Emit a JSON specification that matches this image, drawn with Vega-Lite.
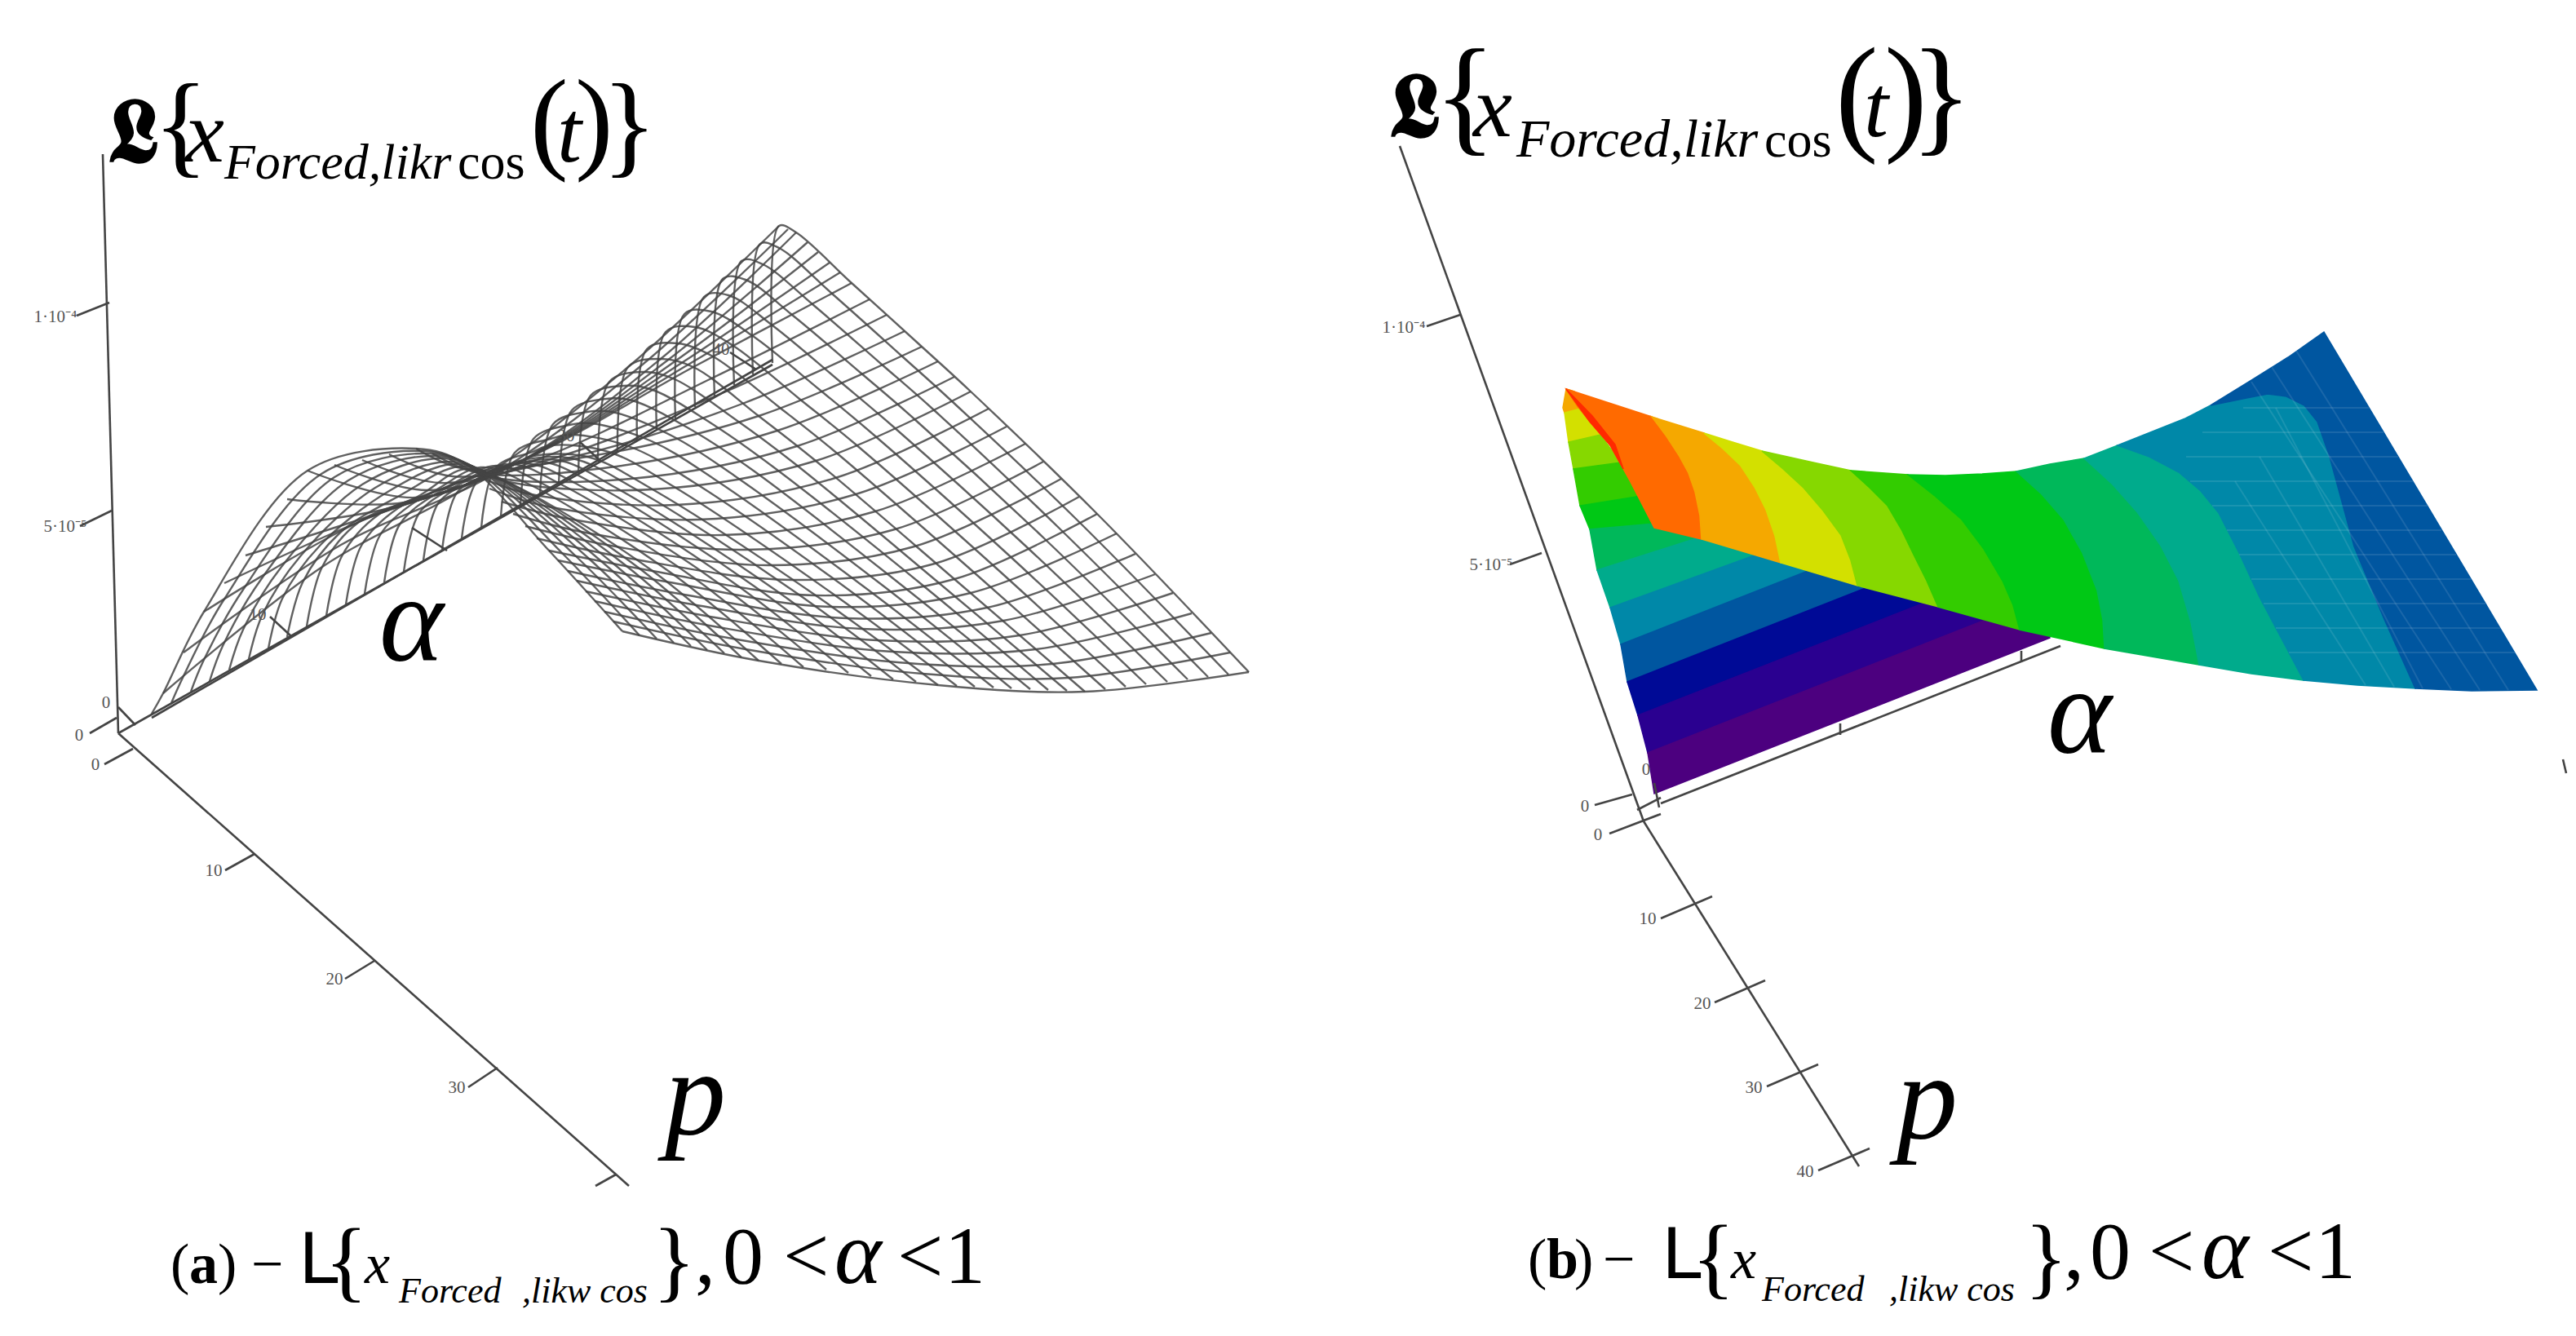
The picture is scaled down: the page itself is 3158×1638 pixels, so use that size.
{"$schema":"https://vega.github.io/schema/vega-lite/v6.json","width":3158,"height":1638,"autosize":{"type":"fit","contains":"padding"},"padding":0,"background":"white","view":{"stroke":null},
"config":{"text":{"baseline":"alphabetic","align":"left","color":"#000"}},
"encoding":{"x":{"field":"x","type":"quantitative","scale":{"domain":[0,3158],"nice":false,"zero":false},"axis":null},"y":{"field":"y","type":"quantitative","scale":{"domain":[1638,0],"nice":false,"zero":false},"axis":null}},
"datasets":{
"mesh":[
{"s":"v0","x":186,"y":875},{"s":"v0","x":200,"y":850},{"s":"v0","x":250,"y":750},{"s":"v0","x":377,"y":577},{"s":"v0","x":510,"y":550},{"s":"v0","x":571,"y":569},{"s":"v0","x":673,"y":675},{"s":"v0","x":763,"y":774},
{"s":"v1","x":210,"y":862},{"s":"v1","x":224,"y":831},{"s":"v1","x":274,"y":736},{"s":"v1","x":394,"y":581},{"s":"v1","x":518,"y":553},{"s":"v1","x":577,"y":572},{"s":"v1","x":689,"y":678},{"s":"v1","x":784,"y":779},
{"s":"v2","x":234,"y":848},{"s":"v2","x":249,"y":811},{"s":"v2","x":298,"y":723},{"s":"v2","x":410,"y":585},{"s":"v2","x":525,"y":556},{"s":"v2","x":583,"y":574},{"s":"v2","x":705,"y":681},{"s":"v2","x":805,"y":783},
{"s":"v3","x":257,"y":835},{"s":"v3","x":273,"y":792},{"s":"v3","x":321,"y":709},{"s":"v3","x":427,"y":589},{"s":"v3","x":533,"y":559},{"s":"v3","x":589,"y":577},{"s":"v3","x":721,"y":684},{"s":"v3","x":826,"y":788},
{"s":"v4","x":281,"y":821},{"s":"v4","x":298,"y":772},{"s":"v4","x":345,"y":695},{"s":"v4","x":444,"y":594},{"s":"v4","x":540,"y":562},{"s":"v4","x":596,"y":580},{"s":"v4","x":737,"y":688},{"s":"v4","x":847,"y":792},
{"s":"v5","x":305,"y":808},{"s":"v5","x":322,"y":753},{"s":"v5","x":369,"y":681},{"s":"v5","x":460,"y":598},{"s":"v5","x":548,"y":566},{"s":"v5","x":602,"y":582},{"s":"v5","x":752,"y":691},{"s":"v5","x":867,"y":797},
{"s":"v6","x":329,"y":795},{"s":"v6","x":346,"y":734},{"s":"v6","x":393,"y":668},{"s":"v6","x":477,"y":602},{"s":"v6","x":555,"y":569},{"s":"v6","x":608,"y":585},{"s":"v6","x":768,"y":694},{"s":"v6","x":888,"y":801},
{"s":"v7","x":352,"y":781},{"s":"v7","x":371,"y":714},{"s":"v7","x":416,"y":654},{"s":"v7","x":493,"y":606},{"s":"v7","x":563,"y":572},{"s":"v7","x":614,"y":587},{"s":"v7","x":784,"y":697},{"s":"v7","x":909,"y":806},
{"s":"v8","x":376,"y":768},{"s":"v8","x":395,"y":695},{"s":"v8","x":440,"y":640},{"s":"v8","x":510,"y":610},{"s":"v8","x":570,"y":575},{"s":"v8","x":620,"y":590},{"s":"v8","x":800,"y":700},{"s":"v8","x":930,"y":810},
{"s":"v9","x":400,"y":755},{"s":"v9","x":419,"y":682},{"s":"v9","x":464,"y":631},{"s":"v9","x":528,"y":604},{"s":"v9","x":589,"y":573},{"s":"v9","x":643,"y":591},{"s":"v9","x":825,"y":704},{"s":"v9","x":958,"y":814},
{"s":"v10","x":424,"y":741},{"s":"v10","x":443,"y":669},{"s":"v10","x":488,"y":623},{"s":"v10","x":545,"y":598},{"s":"v10","x":608,"y":571},{"s":"v10","x":665,"y":593},{"s":"v10","x":850,"y":708},{"s":"v10","x":985,"y":818},
{"s":"v11","x":447,"y":728},{"s":"v11","x":466,"y":656},{"s":"v11","x":511,"y":614},{"s":"v11","x":563,"y":591},{"s":"v11","x":626,"y":569},{"s":"v11","x":688,"y":594},{"s":"v11","x":875,"y":711},{"s":"v11","x":1013,"y":821},
{"s":"v12","x":471,"y":714},{"s":"v12","x":490,"y":643},{"s":"v12","x":535,"y":605},{"s":"v12","x":580,"y":585},{"s":"v12","x":645,"y":568},{"s":"v12","x":710,"y":595},{"s":"v12","x":900,"y":715},{"s":"v12","x":1040,"y":825},
{"s":"v13","x":495,"y":701},{"s":"v13","x":514,"y":629},{"s":"v13","x":559,"y":596},{"s":"v13","x":598,"y":579},{"s":"v13","x":664,"y":566},{"s":"v13","x":733,"y":596},{"s":"v13","x":925,"y":719},{"s":"v13","x":1068,"y":829},
{"s":"v14","x":519,"y":687},{"s":"v14","x":538,"y":616},{"s":"v14","x":583,"y":588},{"s":"v14","x":615,"y":573},{"s":"v14","x":683,"y":564},{"s":"v14","x":755,"y":598},{"s":"v14","x":950,"y":723},{"s":"v14","x":1095,"y":833},
{"s":"v15","x":542,"y":674},{"s":"v15","x":561,"y":603},{"s":"v15","x":606,"y":579},{"s":"v15","x":633,"y":566},{"s":"v15","x":701,"y":562},{"s":"v15","x":778,"y":599},{"s":"v15","x":975,"y":726},{"s":"v15","x":1123,"y":836},
{"s":"v16","x":566,"y":660},{"s":"v16","x":585,"y":590},{"s":"v16","x":630,"y":570},{"s":"v16","x":650,"y":560},{"s":"v16","x":720,"y":560},{"s":"v16","x":800,"y":600},{"s":"v16","x":1000,"y":730},{"s":"v16","x":1150,"y":840},
{"s":"v17","x":590,"y":647},{"s":"v17","x":608,"y":573},{"s":"v17","x":653,"y":554},{"s":"v17","x":675,"y":546},{"s":"v17","x":746,"y":554},{"s":"v17","x":825,"y":596},{"s":"v17","x":1021,"y":728},{"s":"v17","x":1173,"y":841},
{"s":"v18","x":614,"y":633},{"s":"v18","x":631,"y":555},{"s":"v18","x":675,"y":538},{"s":"v18","x":700,"y":533},{"s":"v18","x":773,"y":548},{"s":"v18","x":850,"y":591},{"s":"v18","x":1043,"y":725},{"s":"v18","x":1195,"y":842},
{"s":"v19","x":638,"y":620},{"s":"v19","x":654,"y":538},{"s":"v19","x":698,"y":521},{"s":"v19","x":725,"y":519},{"s":"v19","x":799,"y":541},{"s":"v19","x":875,"y":587},{"s":"v19","x":1064,"y":723},{"s":"v19","x":1218,"y":843},
{"s":"v20","x":662,"y":607},{"s":"v20","x":678,"y":520},{"s":"v20","x":720,"y":505},{"s":"v20","x":750,"y":505},{"s":"v20","x":825,"y":535},{"s":"v20","x":900,"y":583},{"s":"v20","x":1085,"y":720},{"s":"v20","x":1240,"y":844},
{"s":"v21","x":685,"y":593},{"s":"v21","x":701,"y":503},{"s":"v21","x":743,"y":489},{"s":"v21","x":775,"y":491},{"s":"v21","x":851,"y":529},{"s":"v21","x":925,"y":578},{"s":"v21","x":1106,"y":718},{"s":"v21","x":1263,"y":845},
{"s":"v22","x":709,"y":580},{"s":"v22","x":724,"y":485},{"s":"v22","x":765,"y":473},{"s":"v22","x":800,"y":478},{"s":"v22","x":878,"y":523},{"s":"v22","x":950,"y":574},{"s":"v22","x":1128,"y":715},{"s":"v22","x":1285,"y":846},
{"s":"v23","x":733,"y":566},{"s":"v23","x":747,"y":468},{"s":"v23","x":788,"y":456},{"s":"v23","x":825,"y":464},{"s":"v23","x":904,"y":516},{"s":"v23","x":975,"y":569},{"s":"v23","x":1149,"y":713},{"s":"v23","x":1308,"y":847},
{"s":"v24","x":757,"y":553},{"s":"v24","x":770,"y":450},{"s":"v24","x":810,"y":440},{"s":"v24","x":850,"y":450},{"s":"v24","x":930,"y":510},{"s":"v24","x":1000,"y":565},{"s":"v24","x":1170,"y":710},{"s":"v24","x":1330,"y":848},
{"s":"v25","x":781,"y":540},{"s":"v25","x":793,"y":428},{"s":"v25","x":831,"y":421},{"s":"v25","x":874,"y":437},{"s":"v25","x":955,"y":499},{"s":"v25","x":1024,"y":554},{"s":"v25","x":1192,"y":700},{"s":"v25","x":1355,"y":845},
{"s":"v26","x":805,"y":526},{"s":"v26","x":816,"y":407},{"s":"v26","x":852,"y":401},{"s":"v26","x":899,"y":424},{"s":"v26","x":980,"y":489},{"s":"v26","x":1048,"y":544},{"s":"v26","x":1214,"y":690},{"s":"v26","x":1380,"y":842},
{"s":"v27","x":828,"y":513},{"s":"v27","x":839,"y":385},{"s":"v27","x":872,"y":382},{"s":"v27","x":923,"y":412},{"s":"v27","x":1005,"y":478},{"s":"v27","x":1071,"y":533},{"s":"v27","x":1236,"y":680},{"s":"v27","x":1405,"y":839},
{"s":"v28","x":852,"y":499},{"s":"v28","x":863,"y":364},{"s":"v28","x":893,"y":362},{"s":"v28","x":947,"y":399},{"s":"v28","x":1030,"y":468},{"s":"v28","x":1095,"y":523},{"s":"v28","x":1258,"y":670},{"s":"v28","x":1431,"y":836},
{"s":"v29","x":876,"y":486},{"s":"v29","x":886,"y":342},{"s":"v29","x":914,"y":343},{"s":"v29","x":971,"y":386},{"s":"v29","x":1055,"y":457},{"s":"v29","x":1119,"y":512},{"s":"v29","x":1280,"y":660},{"s":"v29","x":1456,"y":833},
{"s":"v30","x":900,"y":472},{"s":"v30","x":909,"y":320},{"s":"v30","x":935,"y":324},{"s":"v30","x":996,"y":373},{"s":"v30","x":1080,"y":446},{"s":"v30","x":1143,"y":501},{"s":"v30","x":1301,"y":650},{"s":"v30","x":1481,"y":830},
{"s":"v31","x":923,"y":459},{"s":"v31","x":932,"y":299},{"s":"v31","x":955,"y":304},{"s":"v31","x":1020,"y":360},{"s":"v31","x":1105,"y":436},{"s":"v31","x":1166,"y":491},{"s":"v31","x":1323,"y":640},{"s":"v31","x":1506,"y":827},
{"s":"v32","x":947,"y":445},{"s":"v32","x":955,"y":277},{"s":"v32","x":976,"y":285},{"s":"v32","x":1044,"y":347},{"s":"v32","x":1130,"y":425},{"s":"v32","x":1190,"y":480},{"s":"v32","x":1345,"y":630},{"s":"v32","x":1531,"y":824},
{"s":"u1","x":200,"y":850},{"s":"u1","x":395,"y":695},{"s":"u1","x":585,"y":590},{"s":"u1","x":770,"y":450},{"s":"u1","x":955,"y":277},
{"s":"u2","x":225,"y":800},{"s":"u2","x":418,"y":668},{"s":"u2","x":608,"y":580},{"s":"u2","x":790,"y":445},{"s":"u2","x":966,"y":281},
{"s":"u3","x":250,"y":750},{"s":"u3","x":440,"y":640},{"s":"u3","x":630,"y":570},{"s":"u3","x":810,"y":440},{"s":"u3","x":976,"y":285},
{"s":"u4","x":275,"y":715},{"s":"u4","x":454,"y":634},{"s":"u4","x":634,"y":568},{"s":"u4","x":818,"y":442},{"s":"u4","x":990,"y":297},
{"s":"u5","x":301,"y":681},{"s":"u5","x":468,"y":628},{"s":"u5","x":638,"y":566},{"s":"u5","x":826,"y":444},{"s":"u5","x":1003,"y":309},
{"s":"u6","x":326,"y":646},{"s":"u6","x":482,"y":622},{"s":"u6","x":642,"y":564},{"s":"u6","x":834,"y":446},{"s":"u6","x":1017,"y":322},
{"s":"u7","x":352,"y":612},{"s":"u7","x":496,"y":616},{"s":"u7","x":646,"y":562},{"s":"u7","x":842,"y":448},{"s":"u7","x":1030,"y":334},
{"s":"u8","x":377,"y":577},{"s":"u8","x":510,"y":610},{"s":"u8","x":650,"y":560},{"s":"u8","x":850,"y":450},{"s":"u8","x":1044,"y":347},
{"s":"u9","x":410,"y":570},{"s":"u9","x":525,"y":601},{"s":"u9","x":668,"y":560},{"s":"u9","x":870,"y":465},{"s":"u9","x":1066,"y":367},
{"s":"u10","x":444,"y":564},{"s":"u10","x":540,"y":592},{"s":"u10","x":685,"y":560},{"s":"u10","x":890,"y":480},{"s":"u10","x":1087,"y":386},
{"s":"u11","x":477,"y":557},{"s":"u11","x":555,"y":584},{"s":"u11","x":703,"y":560},{"s":"u11","x":910,"y":495},{"s":"u11","x":1109,"y":406},
{"s":"u12","x":510,"y":550},{"s":"u12","x":570,"y":575},{"s":"u12","x":720,"y":560},{"s":"u12","x":930,"y":510},{"s":"u12","x":1130,"y":425},
{"s":"u13","x":530,"y":556},{"s":"u13","x":587,"y":580},{"s":"u13","x":747,"y":573},{"s":"u13","x":953,"y":528},{"s":"u13","x":1150,"y":443},
{"s":"u14","x":551,"y":563},{"s":"u14","x":603,"y":585},{"s":"u14","x":773,"y":587},{"s":"u14","x":977,"y":547},{"s":"u14","x":1170,"y":462},
{"s":"u15","x":571,"y":569},{"s":"u15","x":620,"y":590},{"s":"u15","x":800,"y":600},{"s":"u15","x":1000,"y":565},{"s":"u15","x":1190,"y":480},
{"s":"u16","x":586,"y":584},{"s":"u16","x":646,"y":605},{"s":"u16","x":829,"y":619},{"s":"u16","x":1024,"y":586},{"s":"u16","x":1212,"y":501},
{"s":"u17","x":600,"y":599},{"s":"u17","x":671,"y":621},{"s":"u17","x":857,"y":637},{"s":"u17","x":1049,"y":606},{"s":"u17","x":1234,"y":523},
{"s":"u18","x":615,"y":615},{"s":"u18","x":697,"y":636},{"s":"u18","x":886,"y":656},{"s":"u18","x":1073,"y":627},{"s":"u18","x":1257,"y":544},
{"s":"u19","x":629,"y":630},{"s":"u19","x":723,"y":654},{"s":"u19","x":914,"y":674},{"s":"u19","x":1097,"y":649},{"s":"u19","x":1279,"y":566},
{"s":"u20","x":644,"y":645},{"s":"u20","x":749,"y":669},{"s":"u20","x":943,"y":693},{"s":"u20","x":1121,"y":670},{"s":"u20","x":1301,"y":587},
{"s":"u21","x":658,"y":660},{"s":"u21","x":774,"y":685},{"s":"u21","x":971,"y":711},{"s":"u21","x":1146,"y":691},{"s":"u21","x":1323,"y":609},
{"s":"u22","x":673,"y":675},{"s":"u22","x":800,"y":700},{"s":"u22","x":1000,"y":730},{"s":"u22","x":1170,"y":710},{"s":"u22","x":1345,"y":630},
{"s":"u23","x":684,"y":687},{"s":"u23","x":816,"y":713},{"s":"u23","x":1019,"y":744},{"s":"u23","x":1190,"y":727},{"s":"u23","x":1369,"y":654},
{"s":"u24","x":696,"y":700},{"s":"u24","x":833,"y":728},{"s":"u24","x":1038,"y":758},{"s":"u24","x":1210,"y":745},{"s":"u24","x":1392,"y":679},
{"s":"u25","x":707,"y":712},{"s":"u25","x":849,"y":741},{"s":"u25","x":1056,"y":771},{"s":"u25","x":1230,"y":761},{"s":"u25","x":1416,"y":704},
{"s":"u26","x":718,"y":725},{"s":"u26","x":865,"y":755},{"s":"u26","x":1075,"y":785},{"s":"u26","x":1250,"y":779},{"s":"u26","x":1438,"y":727},
{"s":"u27","x":729,"y":737},{"s":"u27","x":881,"y":769},{"s":"u27","x":1094,"y":799},{"s":"u27","x":1270,"y":796},{"s":"u27","x":1461,"y":752},
{"s":"u28","x":741,"y":750},{"s":"u28","x":898,"y":783},{"s":"u28","x":1113,"y":813},{"s":"u28","x":1290,"y":814},{"s":"u28","x":1485,"y":776},
{"s":"u29","x":752,"y":762},{"s":"u29","x":914,"y":796},{"s":"u29","x":1131,"y":826},{"s":"u29","x":1310,"y":831},{"s":"u29","x":1508,"y":800},
{"s":"u30","x":763,"y":774},{"s":"u30","x":930,"y":810},{"s":"u30","x":1150,"y":840},{"s":"u30","x":1330,"y":848},{"s":"u30","x":1531,"y":824}
],
"axes":[
{"s":"a1","x":126,"y":189},{"s":"a1","x":145,"y":899},{"s":"a2","x":134,"y":371},{"s":"a2","x":94,"y":387},{"s":"a3","x":137,"y":626},{"s":"a3","x":98,"y":645},
{"s":"a4","x":110,"y":899},{"s":"a4","x":143,"y":880},{"s":"a5","x":128,"y":937},{"s":"a5","x":163,"y":918},{"s":"a6","x":145,"y":899},{"s":"a6","x":771,"y":1454},
{"s":"a7","x":312,"y":1047},{"s":"a7","x":276,"y":1067},{"s":"a8","x":459,"y":1178},{"s":"a8","x":423,"y":1200},{"s":"a9","x":610,"y":1309},{"s":"a9","x":574,"y":1333},{"s":"a10","x":755,"y":1440},{"s":"a10","x":730,"y":1454},
{"s":"a11","x":145,"y":899},{"s":"a11","x":947,"y":447},{"s":"a12","x":186,"y":880},{"s":"a12","x":947,"y":441},{"s":"a13","x":145,"y":867},{"s":"a13","x":166,"y":889},
{"s":"a14","x":331,"y":756},{"s":"a14","x":357,"y":780},{"s":"a15","x":505,"y":647},{"s":"a15","x":548,"y":675},{"s":"a16","x":711,"y":542},{"s":"a16","x":737,"y":566},{"s":"a17","x":895,"y":432},{"s":"a17","x":927,"y":453},
{"s":"b1","x":1716,"y":179},{"s":"b1","x":2015,"y":1007},{"s":"b2","x":1790,"y":386},{"s":"b2","x":1749,"y":400},{"s":"b3","x":1890,"y":678},{"s":"b3","x":1851,"y":692},{"s":"b4","x":2015,"y":1007},{"s":"b4","x":2279,"y":1430},
{"s":"b5","x":1973,"y":1022},{"s":"b5","x":2036,"y":998},{"s":"b6","x":1955,"y":987},{"s":"b6","x":2001,"y":974},
{"s":"b7","x":2036,"y":1126},{"s":"b7","x":2099,"y":1099},{"s":"b8","x":2102,"y":1229},{"s":"b8","x":2164,"y":1202},{"s":"b9","x":2166,"y":1332},{"s":"b9","x":2229,"y":1305},{"s":"b10","x":2229,"y":1435},{"s":"b10","x":2292,"y":1408},
{"s":"b11","x":2036,"y":985},{"s":"b11","x":2526,"y":792},{"s":"b12","x":2256,"y":887},{"s":"b12","x":2256,"y":901},{"s":"b13","x":2478,"y":798},{"s":"b13","x":2478,"y":812},{"s":"b14","x":2028,"y":960},{"s":"b14","x":2034,"y":990},{"s":"b15","x":3142,"y":931},{"s":"b15","x":3146,"y":948},{"s":"b16","x":2007,"y":993},{"s":"b16","x":2036,"y":978}
],
"rear":[
{"s":"r1","band":"amber","x":1920,"y":477},{"s":"r1","band":"amber","x":1916,"y":500},{"s":"r1","band":"amber","x":1918,"y":506},{"s":"r1","band":"amber","x":1945,"y":500},{"s":"r1","band":"amber","x":1930,"y":480},
{"s":"r2","band":"yellow","x":1918,"y":506},{"s":"r2","band":"yellow","x":1923,"y":542},{"s":"r2","band":"yellow","x":1962,"y":533},{"s":"r2","band":"yellow","x":1941,"y":500},
{"s":"r3","band":"lime","x":1923,"y":542},{"s":"r3","band":"lime","x":1929,"y":575},{"s":"r3","band":"lime","x":1987,"y":567},{"s":"r3","band":"lime","x":1962,"y":533},
{"s":"r4","band":"green","x":1929,"y":575},{"s":"r4","band":"green","x":1937,"y":620},{"s":"r4","band":"green","x":2012,"y":608},{"s":"r4","band":"green","x":1987,"y":567},
{"s":"r5","band":"vivid","x":1937,"y":620},{"s":"r5","band":"vivid","x":1949,"y":649},{"s":"r5","band":"vivid","x":2050,"y":640},{"s":"r5","band":"vivid","x":2012,"y":608},
{"s":"r6","band":"emerald","x":1949,"y":649},{"s":"r6","band":"emerald","x":1958,"y":699},{"s":"r6","band":"emerald","x":2120,"y":647},{"s":"r6","band":"emerald","x":2050,"y":640},
{"s":"r7","band":"teal","x":1958,"y":699},{"s":"r7","band":"teal","x":1974,"y":745},{"s":"r7","band":"teal","x":2200,"y":663},{"s":"r7","band":"teal","x":2120,"y":647},
{"s":"r8","band":"cyan","x":1974,"y":745},{"s":"r8","band":"cyan","x":1987,"y":790},{"s":"r8","band":"cyan","x":2300,"y":667},{"s":"r8","band":"cyan","x":2200,"y":663},
{"s":"r9","band":"blue","x":1987,"y":790},{"s":"r9","band":"blue","x":1995,"y":836},{"s":"r9","band":"blue","x":2350,"y":696},{"s":"r9","band":"blue","x":2300,"y":667},
{"s":"r10","band":"navy","x":1995,"y":836},{"s":"r10","band":"navy","x":2008,"y":877},{"s":"r10","band":"navy","x":2400,"y":723},{"s":"r10","band":"navy","x":2350,"y":696},
{"s":"r11","band":"indigo","x":2008,"y":877},{"s":"r11","band":"indigo","x":2020,"y":923},{"s":"r11","band":"indigo","x":2500,"y":734},{"s":"r11","band":"indigo","x":2400,"y":723},
{"s":"r12","band":"violet","x":2020,"y":923},{"s":"r12","band":"violet","x":2028,"y":973},{"s":"r12","band":"violet","x":2513,"y":782},{"s":"r12","band":"violet","x":2500,"y":734}
],
"front":[
{"s":"f1","band":"orange","x":1920,"y":477},{"s":"f1","band":"orange","x":1934,"y":498},{"s":"f1","band":"orange","x":1949,"y":517},{"s":"f1","band":"orange","x":1974,"y":546},{"s":"f1","band":"orange","x":1999,"y":591},{"s":"f1","band":"orange","x":2014,"y":620},{"s":"f1","band":"orange","x":2028,"y":647},{"s":"f1","band":"orange","x":2086,"y":661},{"s":"f1","band":"orange","x":2084,"y":632},{"s":"f1","band":"orange","x":2078,"y":603},{"s":"f1","band":"orange","x":2070,"y":580},{"s":"f1","band":"orange","x":2058,"y":558},{"s":"f1","band":"orange","x":2043,"y":535},{"s":"f1","band":"orange","x":2025,"y":511},
{"s":"f2","band":"amber","x":2025,"y":511},{"s":"f2","band":"amber","x":2043,"y":535},{"s":"f2","band":"amber","x":2058,"y":558},{"s":"f2","band":"amber","x":2070,"y":580},{"s":"f2","band":"amber","x":2078,"y":603},{"s":"f2","band":"amber","x":2084,"y":632},{"s":"f2","band":"amber","x":2086,"y":661},{"s":"f2","band":"amber","x":2183,"y":690},{"s":"f2","band":"amber","x":2176,"y":657},{"s":"f2","band":"amber","x":2165,"y":625},{"s":"f2","band":"amber","x":2151,"y":597},{"s":"f2","band":"amber","x":2134,"y":571},{"s":"f2","band":"amber","x":2112,"y":550},{"s":"f2","band":"amber","x":2089,"y":531},
{"s":"f3","band":"yellow","x":2089,"y":531},{"s":"f3","band":"yellow","x":2112,"y":550},{"s":"f3","band":"yellow","x":2134,"y":571},{"s":"f3","band":"yellow","x":2151,"y":597},{"s":"f3","band":"yellow","x":2165,"y":625},{"s":"f3","band":"yellow","x":2176,"y":657},{"s":"f3","band":"yellow","x":2183,"y":690},{"s":"f3","band":"yellow","x":2277,"y":718},{"s":"f3","band":"yellow","x":2269,"y":687},{"s":"f3","band":"yellow","x":2257,"y":656},{"s":"f3","band":"yellow","x":2235,"y":626},{"s":"f3","band":"yellow","x":2211,"y":598},{"s":"f3","band":"yellow","x":2186,"y":575},{"s":"f3","band":"yellow","x":2160,"y":553},{"s":"f3","band":"yellow","x":2124,"y":542},
{"s":"f4","band":"lime","x":2160,"y":553},{"s":"f4","band":"lime","x":2186,"y":575},{"s":"f4","band":"lime","x":2211,"y":598},{"s":"f4","band":"lime","x":2235,"y":626},{"s":"f4","band":"lime","x":2257,"y":656},{"s":"f4","band":"lime","x":2269,"y":687},{"s":"f4","band":"lime","x":2277,"y":718},{"s":"f4","band":"lime","x":2376,"y":744},{"s":"f4","band":"lime","x":2362,"y":712},{"s":"f4","band":"lime","x":2346,"y":680},{"s":"f4","band":"lime","x":2331,"y":649},{"s":"f4","band":"lime","x":2314,"y":620},{"s":"f4","band":"lime","x":2292,"y":598},{"s":"f4","band":"lime","x":2269,"y":577},{"s":"f4","band":"lime","x":2223,"y":567},
{"s":"f5","band":"green","x":2269,"y":577},{"s":"f5","band":"green","x":2292,"y":598},{"s":"f5","band":"green","x":2314,"y":620},{"s":"f5","band":"green","x":2331,"y":649},{"s":"f5","band":"green","x":2346,"y":680},{"s":"f5","band":"green","x":2362,"y":712},{"s":"f5","band":"green","x":2376,"y":744},{"s":"f5","band":"green","x":2476,"y":772},{"s":"f5","band":"green","x":2468,"y":742},{"s":"f5","band":"green","x":2455,"y":712},{"s":"f5","band":"green","x":2432,"y":673},{"s":"f5","band":"green","x":2405,"y":637},{"s":"f5","band":"green","x":2372,"y":608},{"s":"f5","band":"green","x":2339,"y":582},
{"s":"f6","band":"vivid","x":2339,"y":582},{"s":"f6","band":"vivid","x":2372,"y":608},{"s":"f6","band":"vivid","x":2405,"y":637},{"s":"f6","band":"vivid","x":2432,"y":673},{"s":"f6","band":"vivid","x":2455,"y":712},{"s":"f6","band":"vivid","x":2468,"y":742},{"s":"f6","band":"vivid","x":2476,"y":772},{"s":"f6","band":"vivid","x":2580,"y":795},{"s":"f6","band":"vivid","x":2578,"y":760},{"s":"f6","band":"vivid","x":2571,"y":724},{"s":"f6","band":"vivid","x":2553,"y":678},{"s":"f6","band":"vivid","x":2530,"y":637},{"s":"f6","band":"vivid","x":2503,"y":606},{"s":"f6","band":"vivid","x":2472,"y":578},{"s":"f6","band":"vivid","x":2430,"y":581},{"s":"f6","band":"vivid","x":2385,"y":583},
{"s":"f7","band":"emerald","x":2472,"y":578},{"s":"f7","band":"emerald","x":2503,"y":606},{"s":"f7","band":"emerald","x":2530,"y":637},{"s":"f7","band":"emerald","x":2553,"y":678},{"s":"f7","band":"emerald","x":2571,"y":724},{"s":"f7","band":"emerald","x":2578,"y":760},{"s":"f7","band":"emerald","x":2580,"y":795},{"s":"f7","band":"emerald","x":2696,"y":815},{"s":"f7","band":"emerald","x":2686,"y":763},{"s":"f7","band":"emerald","x":2671,"y":712},{"s":"f7","band":"emerald","x":2649,"y":669},{"s":"f7","band":"emerald","x":2621,"y":629},{"s":"f7","band":"emerald","x":2590,"y":594},{"s":"f7","band":"emerald","x":2555,"y":562},{"s":"f7","band":"emerald","x":2513,"y":569},
{"s":"f8","band":"teal","x":2555,"y":562},{"s":"f8","band":"teal","x":2590,"y":594},{"s":"f8","band":"teal","x":2621,"y":629},{"s":"f8","band":"teal","x":2649,"y":669},{"s":"f8","band":"teal","x":2671,"y":712},{"s":"f8","band":"teal","x":2686,"y":763},{"s":"f8","band":"teal","x":2696,"y":815},{"s":"f8","band":"teal","x":2760,"y":826},{"s":"f8","band":"teal","x":2824,"y":834},{"s":"f8","band":"teal","x":2797,"y":783},{"s":"f8","band":"teal","x":2770,"y":732},{"s":"f8","band":"teal","x":2746,"y":680},{"s":"f8","band":"teal","x":2720,"y":629},{"s":"f8","band":"teal","x":2698,"y":602},{"s":"f8","band":"teal","x":2671,"y":579},{"s":"f8","band":"teal","x":2635,"y":560},{"s":"f8","band":"teal","x":2596,"y":546},
{"s":"f9","band":"cyan","x":2596,"y":546},{"s":"f9","band":"cyan","x":2635,"y":560},{"s":"f9","band":"cyan","x":2671,"y":579},{"s":"f9","band":"cyan","x":2698,"y":602},{"s":"f9","band":"cyan","x":2720,"y":629},{"s":"f9","band":"cyan","x":2746,"y":680},{"s":"f9","band":"cyan","x":2770,"y":732},{"s":"f9","band":"cyan","x":2797,"y":783},{"s":"f9","band":"cyan","x":2824,"y":834},{"s":"f9","band":"cyan","x":2890,"y":840},{"s":"f9","band":"cyan","x":2961,"y":844},{"s":"f9","band":"cyan","x":2922,"y":757},{"s":"f9","band":"cyan","x":2886,"y":670},{"s":"f9","band":"cyan","x":2871,"y":615},{"s":"f9","band":"cyan","x":2856,"y":560},{"s":"f9","band":"cyan","x":2841,"y":517},{"s":"f9","band":"cyan","x":2825,"y":497},{"s":"f9","band":"cyan","x":2803,"y":486},{"s":"f9","band":"cyan","x":2780,"y":483},{"s":"f9","band":"cyan","x":2754,"y":488},{"s":"f9","band":"cyan","x":2710,"y":497},{"s":"f9","band":"cyan","x":2679,"y":513},
{"s":"f10","band":"blue","x":2710,"y":497},{"s":"f10","band":"blue","x":2754,"y":488},{"s":"f10","band":"blue","x":2780,"y":483},{"s":"f10","band":"blue","x":2803,"y":486},{"s":"f10","band":"blue","x":2825,"y":497},{"s":"f10","band":"blue","x":2841,"y":517},{"s":"f10","band":"blue","x":2856,"y":560},{"s":"f10","band":"blue","x":2871,"y":615},{"s":"f10","band":"blue","x":2886,"y":670},{"s":"f10","band":"blue","x":2922,"y":757},{"s":"f10","band":"blue","x":2961,"y":844},{"s":"f10","band":"blue","x":3030,"y":847},{"s":"f10","band":"blue","x":3110,"y":846},{"s":"f10","band":"blue","x":2849,"y":407},{"s":"f10","band":"blue","x":2805,"y":438},{"s":"f10","band":"blue","x":2762,"y":465},
{"s":"f11","band":"red","x":1920,"y":477},{"s":"f11","band":"red","x":1949,"y":517},{"s":"f11","band":"red","x":1974,"y":546},{"s":"f11","band":"red","x":1990,"y":575},{"s":"f11","band":"red","x":1980,"y":545},{"s":"f11","band":"red","x":1952,"y":510}
],
"sheen":[
{"s":"h1","x":2750,"y":500},{"s":"h1","x":2904,"y":500},{"s":"h2","x":2700,"y":530},{"s":"h2","x":2922,"y":530},{"s":"h3","x":2680,"y":560},{"s":"h3","x":2940,"y":560},{"s":"h4","x":2685,"y":590},{"s":"h4","x":2958,"y":590},{"s":"h5","x":2712,"y":620},{"s":"h5","x":2976,"y":620},{"s":"h6","x":2730,"y":650},{"s":"h6","x":2993,"y":650},{"s":"h7","x":2745,"y":680},{"s":"h7","x":3011,"y":680},{"s":"h8","x":2760,"y":710},{"s":"h8","x":3029,"y":710},{"s":"h9","x":2775,"y":740},{"s":"h9","x":3047,"y":740},{"s":"h10","x":2790,"y":770},{"s":"h10","x":3065,"y":770},{"s":"h11","x":2806,"y":800},{"s":"h11","x":3083,"y":800},
{"s":"k1","x":2815,"y":430},{"s":"k1","x":3075,"y":846},{"s":"k2","x":2785,"y":450},{"s":"k2","x":3040,"y":846},{"s":"k3","x":2760,"y":468},{"s":"k3","x":3005,"y":845},{"s":"k4","x":2790,"y":500},{"s":"k4","x":2970,"y":844},{"s":"k5","x":2770,"y":560},{"s":"k5","x":2935,"y":842},{"s":"k6","x":2740,"y":590},{"s":"k6","x":2900,"y":840}
],
"small":[
{"t":"1·10⁻⁴","x":68,"y":395},{"t":"5·10⁻⁵","x":80,"y":652},{"t":"0","x":130,"y":868},{"t":"0","x":97,"y":908},{"t":"0","x":117,"y":944},{"t":"10","x":262,"y":1074},{"t":"20","x":410,"y":1207},{"t":"30","x":560,"y":1340},{"t":"10","x":316,"y":760},{"t":"30","x":694,"y":541},{"t":"40","x":884,"y":435},
{"t":"1·10⁻⁴","x":1721,"y":408},{"t":"5·10⁻⁵","x":1828,"y":699},{"t":"0","x":1943,"y":995},{"t":"0","x":1959,"y":1030},{"t":"0","x":2018,"y":950},{"t":"10","x":2020,"y":1133},{"t":"20","x":2087,"y":1237},{"t":"30","x":2150,"y":1340},{"t":"40","x":2213,"y":1443}
],
"t150":[{"t":"α","x":465,"y":810},{"t":"α","x":2510,"y":923},{"t":"p","x":815,"y":1391},{"t":"p","x":2325,"y":1396}],
"t108":[{"t":"x","x":227,"y":198},{"t":"t","x":683,"y":198},{"t":"x","x":1806,"y":167},{"t":"t","x":2285,"y":167}],
"brL":[{"t":"{","x":188,"y":199},{"t":"(","x":650,"y":194},{"t":")","x":705,"y":194},{"t":"}","x":738,"y":199}],
"brR":[{"t":"{","x":1758,"y":170},{"t":"(","x":2250,"y":168},{"t":")","x":2310,"y":168},{"t":"}","x":2342,"y":170}],
"subL":[{"t":"Forced,likr","x":275,"y":219}],
"subR":[{"t":"Forced,likr","x":1859,"y":192}],
"cos":[{"t":"cos","x":561,"y":219},{"t":"cos","x":2163,"y":192}],
"frak":[{"t":"𝕷","x":133,"y":198},{"t":"𝕷","x":1704,"y":167}],
"capR":[{"t":"(","x":209,"y":1573},{"t":")","x":267,"y":1573},{"t":"−","x":308,"y":1573},{"t":"(","x":1873,"y":1567},{"t":")","x":1930,"y":1567},{"t":"−","x":1965,"y":1567}],
"capB":[{"t":"a","x":232,"y":1573},{"t":"b","x":1896,"y":1567}],
"capL":[{"t":"L","x":367,"y":1573},{"t":"L","x":2038,"y":1567}],
"capBr":[{"t":"{","x":398,"y":1582},{"t":"}","x":800,"y":1582},{"t":"{","x":2074,"y":1578},{"t":"}","x":2482,"y":1578}],
"capX":[{"t":"x","x":447,"y":1573},{"t":"x","x":2122,"y":1567}],
"capS":[{"t":"Forced","x":489,"y":1597},{"t":",likw cos","x":640,"y":1597},{"t":"Forced","x":2160,"y":1595},{"t":",likw cos","x":2316,"y":1595}],
"capN":[{"t":",","x":852,"y":1573},{"t":"0","x":886,"y":1573},{"t":"<","x":960,"y":1573},{"t":"<","x":1100,"y":1573},{"t":"1","x":1158,"y":1573},{"t":",","x":2530,"y":1567},{"t":"0","x":2562,"y":1567},{"t":"<","x":2634,"y":1567},{"t":"<","x":2780,"y":1567},{"t":"1","x":2838,"y":1567}],
"capA":[{"t":"α","x":1023,"y":1573},{"t":"α","x":2699,"y":1567}]
},
"layer":[
{"data":{"name":"rear"},"mark":{"type":"line","interpolate":"linear-closed","strokeWidth":1.5},"encoding":{"detail":{"field":"s"},"order":{"value":null},"fill":{"field":"band","type":"nominal","legend":null,"scale":{"domain":["red","orange","amber","yellow","lime","green","vivid","emerald","teal","cyan","blue","navy","indigo","violet"],"range":["#ff2a00","#ff6a00","#f5a800","#d3e000","#86d800","#33cc00","#00c815","#00b85a","#00ab8c","#0088a8","#0056a0","#000a96","#2a0090","#4c007f"]}},"stroke":{"field":"band","type":"nominal","legend":null,"scale":{"domain":["red","orange","amber","yellow","lime","green","vivid","emerald","teal","cyan","blue","navy","indigo","violet"],"range":["#ff2a00","#ff6a00","#f5a800","#d3e000","#86d800","#33cc00","#00c815","#00b85a","#00ab8c","#0088a8","#0056a0","#000a96","#2a0090","#4c007f"]}}}},
{"data":{"name":"front"},"mark":{"type":"line","interpolate":"linear-closed","strokeWidth":1.5},"encoding":{"detail":{"field":"s"},"order":{"value":null},"fill":{"field":"band","type":"nominal","legend":null,"scale":{"domain":["red","orange","amber","yellow","lime","green","vivid","emerald","teal","cyan","blue","navy","indigo","violet"],"range":["#ff2a00","#ff6a00","#f5a800","#d3e000","#86d800","#33cc00","#00c815","#00b85a","#00ab8c","#0088a8","#0056a0","#000a96","#2a0090","#4c007f"]}},"stroke":{"field":"band","type":"nominal","legend":null,"scale":{"domain":["red","orange","amber","yellow","lime","green","vivid","emerald","teal","cyan","blue","navy","indigo","violet"],"range":["#ff2a00","#ff6a00","#f5a800","#d3e000","#86d800","#33cc00","#00c815","#00b85a","#00ab8c","#0088a8","#0056a0","#000a96","#2a0090","#4c007f"]}}}},
{"data":{"name":"sheen"},"mark":{"type":"line","stroke":"#ffffff","strokeWidth":2,"opacity":0.1},"encoding":{"detail":{"field":"s"},"order":{"value":null}}},
{"data":{"name":"mesh"},"mark":{"type":"line","interpolate":"catmull-rom","stroke":"#444444","strokeWidth":2.4,"opacity":0.85},"encoding":{"detail":{"field":"s"},"order":{"value":null}}},
{"data":{"name":"axes"},"mark":{"type":"line","stroke":"#444444","strokeWidth":2.6},"encoding":{"detail":{"field":"s"},"order":{"value":null}}},
{"data":{"name":"small"},"mark":{"type":"text","font":"Liberation Serif","fontSize":21,"color":"#555555","align":"center"},"encoding":{"text":{"field":"t"}}},
{"data":{"name":"t150"},"mark":{"type":"text","font":"Liberation Serif","fontStyle":"italic","fontSize":150},"encoding":{"text":{"field":"t"}}},
{"data":{"name":"t108"},"mark":{"type":"text","font":"Liberation Serif","fontStyle":"italic","fontSize":108},"encoding":{"text":{"field":"t"}}},
{"data":{"name":"brL"},"mark":{"type":"text","font":"Liberation Serif","fontSize":140},"encoding":{"text":{"field":"t"}}},
{"data":{"name":"brR"},"mark":{"type":"text","font":"Liberation Serif","fontSize":158},"encoding":{"text":{"field":"t"}}},
{"data":{"name":"subL"},"mark":{"type":"text","font":"Liberation Serif","fontStyle":"italic","fontSize":62},"encoding":{"text":{"field":"t"}}},
{"data":{"name":"subR"},"mark":{"type":"text","font":"Liberation Serif","fontStyle":"italic","fontSize":66},"encoding":{"text":{"field":"t"}}},
{"data":{"name":"cos"},"mark":{"type":"text","font":"Liberation Serif","fontSize":62},"encoding":{"text":{"field":"t"}}},
{"data":{"name":"frak"},"mark":{"type":"text","font":"DejaVu Serif","fontWeight":"bold","fontSize":110},"encoding":{"text":{"field":"t"}}},
{"data":{"name":"capR"},"mark":{"type":"text","font":"Liberation Serif","fontSize":70},"encoding":{"text":{"field":"t"}}},
{"data":{"name":"capB"},"mark":{"type":"text","font":"Liberation Serif","fontWeight":"bold","fontSize":70},"encoding":{"text":{"field":"t"}}},
{"data":{"name":"capL"},"mark":{"type":"text","font":"Liberation Sans","fontSize":90},"encoding":{"text":{"field":"t"}}},
{"data":{"name":"capBr"},"mark":{"type":"text","font":"Liberation Serif","fontSize":110},"encoding":{"text":{"field":"t"}}},
{"data":{"name":"capX"},"mark":{"type":"text","font":"Liberation Serif","fontStyle":"italic","fontSize":70},"encoding":{"text":{"field":"t"}}},
{"data":{"name":"capS"},"mark":{"type":"text","font":"Liberation Serif","fontStyle":"italic","fontSize":44},"encoding":{"text":{"field":"t"}}},
{"data":{"name":"capN"},"mark":{"type":"text","font":"Liberation Serif","fontSize":100},"encoding":{"text":{"field":"t"}}},
{"data":{"name":"capA"},"mark":{"type":"text","font":"Liberation Serif","fontStyle":"italic","fontSize":110},"encoding":{"text":{"field":"t"}}}
]}
